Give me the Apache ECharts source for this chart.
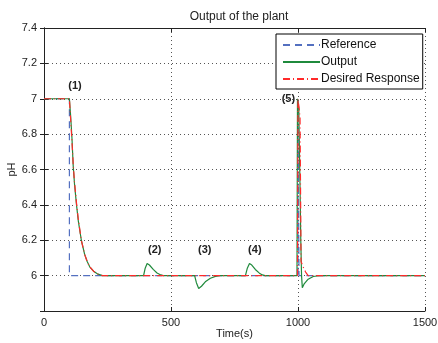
<!DOCTYPE html>
<html>
<head>
<meta charset="utf-8">
<script src="https://cdn.jsdelivr.net/npm/echarts@6/dist/echarts.min.js"></script>
<style>
  html, body { margin: 0; padding: 0; background: #fff; }
  #chart { width: 438px; height: 343px; }
</style>
</head>
<body>
<div id="chart"></div>
<script>
// pH set point (step reference)
const referenceData = [
  [0, 7], [100, 7], [100, 6], [1000, 6], [1000, 7], [1004, 7], [1004, 6], [1500, 6]
];

// plant output
const outputData = [
  [0, 7], [100, 7], [105, 6.9], [110, 6.78], [115, 6.62], [120, 6.52], [128, 6.4],
  [135, 6.31], [147, 6.2], [160, 6.12], [170, 6.08], [180, 6.05], [195, 6.025],
  [210, 6.01], [230, 6.0], [392, 6.0], [398, 6.04], [406, 6.068], [415, 6.06],
  [430, 6.035], [445, 6.015], [460, 6.004], [470, 6.0], [593, 6.0], [600, 5.96],
  [609, 5.927], [620, 5.94], [635, 5.965], [655, 5.985], [675, 5.996], [690, 6.0],
  [793, 6.0], [800, 6.04], [809, 6.068], [818, 6.06], [832, 6.035], [848, 6.014],
  [860, 6.004], [870, 6.0], [996, 6.0], [998, 7.0], [1003, 6.95], [1008, 6.5],
  [1011, 6.2], [1014, 6.0], [1017, 5.932], [1025, 5.955], [1040, 5.98],
  [1060, 5.995], [1085, 6.0], [1500, 6.0]
];

// reference model response
const desiredData = [
  [0, 7], [100, 7], [105, 6.88], [110, 6.76], [115, 6.63], [120, 6.53], [128, 6.41],
  [135, 6.32], [147, 6.2], [160, 6.12], [170, 6.08], [180, 6.05], [195, 6.025],
  [210, 6.01], [230, 6.0], [998, 6.0], [1000, 7.0], [1008, 6.9], [1012, 6.08],
  [1020, 6.05], [1030, 6.02], [1040, 6.0], [1500, 6.0]
];

const annotationLabels = ['(1)', '(2)', '(3)', '(4)', '(5)'];
const annotationCoords = [[122, 7.07], [436, 6.145], [633, 6.145], [830, 6.145], [962, 7.0]];

const yTicks = [6, 6.2, 6.4, 6.6, 6.8, 7, 7.2, 7.4];

const chart = echarts.init(document.getElementById('chart'));
const font = 'Liberation Sans, Arial, sans-serif';
const axisColor = '#222';
const gridLine = { show: true, lineStyle: { type: [1, 3], color: '#555', width: 1 } };

const option = {
  animation: false,
  backgroundColor: '#fff',
  textStyle: { fontFamily: font },
  title: {
    text: 'Output of the plant',
    left: 234, top: 6, textAlign: 'center',
    textStyle: { fontSize: 12, fontWeight: 'normal', color: '#222', fontFamily: font }
  },
  grid: { left: 44, right: 13, top: 28, bottom: 32, containLabel: false, outerBoundsMode: 'none' },
  legend: {
    orient: 'vertical',
    left: 276, top: 34,
    padding: [5, 3, 4, 6],
    itemGap: 5,
    itemWidth: 37,
    itemHeight: 12,
    backgroundColor: '#fff',
    borderColor: '#000',
    borderWidth: 1,
    borderRadius: 0,
    itemStyle: { opacity: 0 },
    textStyle: { fontSize: 12, color: '#111', padding: [0, 0, 0, -4], fontFamily: font },
    data: ['Reference', 'Output', 'Desired Response']
  },
  xAxis: [{
    type: 'value', min: 0, max: 1500, interval: 500,
    name: 'Time(s)', nameLocation: 'middle', nameGap: 17, nameMoveOverlap: false,
    nameTextStyle: { fontSize: 11, color: '#222' },
    axisLine: { lineStyle: { color: axisColor } },
    axisTick: { inside: true, length: 4, lineStyle: { color: axisColor } },
    axisLabel: { fontSize: 11, color: '#222', margin: 6, formatter: v => String(v) },
    splitLine: gridLine
  }, {
    type: 'value', min: 0, max: 1500, interval: 500, position: 'top',
    axisLine: { show: true, lineStyle: { color: axisColor } },
    axisTick: { inside: true, length: 4, lineStyle: { color: axisColor } },
    axisLabel: { show: false },
    splitLine: { show: false }
  }],
  yAxis: [{
    type: 'value', min: 5.8, max: 7.4, interval: 0.2,
    name: 'pH', nameLocation: 'middle', nameGap: 27, nameRotate: 90, nameMoveOverlap: false,
    nameTextStyle: { fontSize: 11, color: '#222' },
    axisLine: { show: true, lineStyle: { color: axisColor } },
    axisTick: { inside: true, length: 4, lineStyle: { color: axisColor } },
    axisLabel: {
      fontSize: 11, color: '#222', margin: 7,
      formatter: v => {
        const r = Math.round(v * 10) / 10;
        return yTicks.some(t => Math.abs(t - r) < 1e-6) ? String(r) : '';
      }
    },
    splitLine: gridLine
  }, {
    type: 'value', min: 5.8, max: 7.4, interval: 0.2, position: 'right',
    axisLine: { show: true, lineStyle: { color: axisColor } },
    axisTick: { inside: true, length: 4, lineStyle: { color: axisColor } },
    axisLabel: { show: false },
    splitLine: { show: false }
  }],
  series: [{
    name: 'Reference', type: 'line', symbol: 'none', z: 2,
    lineStyle: { color: '#5470c0', width: 1.2, type: [7, 5] },
    itemStyle: { color: '#5470c0' },
    data: referenceData
  }, {
    name: 'Output', type: 'line', symbol: 'none', z: 3,
    lineStyle: { color: '#1f8a3c', width: 1.2 },
    itemStyle: { color: '#1f8a3c' },
    data: outputData,
    markPoint: {
      symbol: 'circle', symbolSize: 0,
      label: {
        show: true, position: 'inside', fontSize: 11, fontWeight: 'bold',
        color: '#222', fontFamily: font, formatter: p => p.name
      },
      data: annotationLabels.map((name, i) => ({ name, coord: annotationCoords[i] }))
    }
  }, {
    name: 'Desired Response', type: 'line', symbol: 'none', z: 4,
    lineStyle: { color: '#ff2a2a', width: 1.2, type: [7, 3, 1, 3] },
    itemStyle: { color: '#ff2a2a' },
    data: desiredData
  }]
};

chart.setOption(option);
</script>
</body>
</html>
